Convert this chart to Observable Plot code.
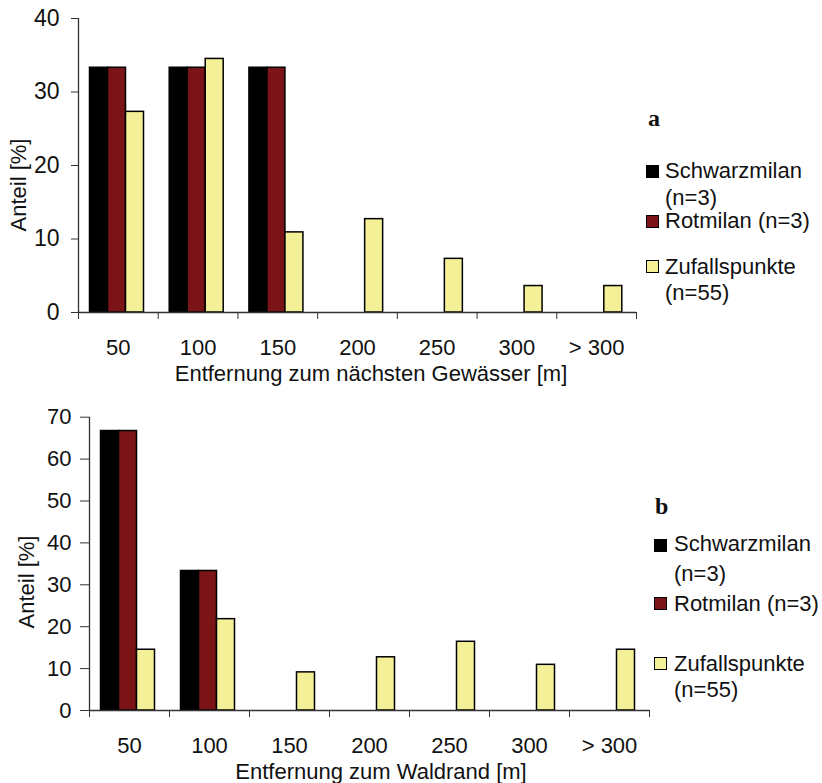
<!DOCTYPE html>
<html><head><meta charset="utf-8">
<script src="https://cdn.jsdelivr.net/npm/d3@7"></script>
<script src="https://cdn.jsdelivr.net/npm/@observablehq/plot@0.6"></script>
<style>
body{margin:0;background:#fff;}
#root{position:relative;width:822px;height:783px;font-family:"Liberation Sans",Arial,sans-serif;color:#111;overflow:hidden;}
.abs{position:absolute;white-space:nowrap;}
.sw{position:absolute;width:11px;height:11px;border:1px solid #000;}
svg{position:absolute;left:0;}
</style></head><body><div id="root"></div>
<script>
// ---- data ----
const categories = ["50", "100", "150", "200", "250", "300", "> 300"];
const seriesNames = ["Schwarzmilan", "Rotmilan", "Zufallspunkte"];
const legendLines = [["Schwarzmilan", "(n=3)"], ["Rotmilan (n=3)"], ["Zufallspunkte", "(n=55)"]];
const colors = ["#000000", "#7a1417", "#f4f098"];
// a: Entfernung zum nächsten Gewässer
const waterSchwarz = [33.3, 33.3, 33.3, 0, 0, 0, 0];
const waterRot     = [33.3, 33.3, 33.3, 0, 0, 0, 0];
const waterZufall  = [27.3, 34.5, 10.9, 12.7, 7.3, 3.6, 3.6];
// b: Entfernung zum Waldrand
const forestSchwarz = [66.7, 33.3, 0, 0, 0, 0, 0];
const forestRot     = [66.7, 33.3, 0, 0, 0, 0, 0];
const forestZufall  = [14.5, 21.8, 9.1, 12.7, 16.4, 10.9, 14.5];
const yTicksA = [0, 10, 20, 30, 40];
const yTicksB = [0, 10, 20, 30, 40, 50, 60, 70];
const yLabel = "Anteil [%]";
const xTitleA = "Entfernung zum nächsten Gewässer [m]";
const xTitleB = "Entfernung zum Waldrand [m]";

const root = document.getElementById("root");
const FONT = "Liberation Sans, Arial, sans-serif";

function rowsOf(values) { return values.map((v, i) => ({i, v})).filter(d => d.v > 0); }

function makeChart(cfg) {
  const plotW = cfg.width - cfg.ml - cfg.mr;
  const band = plotW / categories.length;
  const marks = [];
  cfg.values.forEach((vals, k) => {
    const left = 11.5 + 18 * k;
    marks.push(Plot.rectY(rowsOf(vals), {
      x1: d => d.i, x2: d => d.i + 1, y1: d => 0, y2: d => d.v,
      fill: colors[k], stroke: "#000", strokeWidth: 1.5,
      insetLeft: left, insetRight: band - left - 18
    }));
  });
  marks.push(Plot.ruleY([0], {stroke: "#333", strokeWidth: 1.3}));
  marks.push(Plot.ruleX([0], {stroke: "#333", strokeWidth: 1.3}));
  marks.push(Plot.axisX(d3.range(categories.length + 1), {tickSize: 7, tickFormat: () => "", stroke: "#333", label: null}));
  marks.push(Plot.axisX(categories.map((c, i) => i + 0.5), {tickSize: 0, tickPadding: 27, tickFormat: d => categories[Math.floor(d)], label: null, fontSize: 22}));
  marks.push(Plot.axisY(cfg.yTicks, {tickSize: cfg.tickSize, tickPadding: cfg.tickPad, label: null, stroke: "#333", fontSize: cfg.yFont}));
  const svg = Plot.plot({
    width: cfg.width, height: cfg.height,
    marginLeft: cfg.ml, marginRight: cfg.mr, marginTop: cfg.mt, marginBottom: cfg.mb,
    style: {fontFamily: FONT, fontSize: "22px", color: "#111", background: "transparent", overflow: "visible"},
    x: {type: "linear", domain: [0, categories.length]},
    y: {domain: [0, cfg.yMax]},
    marks
  });
  svg.style.top = cfg.top + "px";
  root.appendChild(svg);
}

function text(str, x, baseline, fs, opts = {}) {
  const d = document.createElement("div");
  d.className = "abs";
  d.textContent = str;
  d.style.fontSize = fs + "px";
  d.style.lineHeight = fs + "px";
  d.style.left = x + "px";
  d.style.top = (baseline - 0.8465 * fs) + "px";
  if (opts.center) d.style.transform = "translateX(-50%)";
  if (opts.font) d.style.fontFamily = opts.font;
  if (opts.bold) d.style.fontWeight = "bold";
  root.appendChild(d);
}
function vtext(str, cx, cy, fs) {
  const d = document.createElement("div");
  d.className = "abs";
  d.textContent = str;
  d.style.fontSize = fs + "px";
  d.style.lineHeight = fs + "px";
  d.style.left = cx + "px";
  d.style.top = cy + "px";
  d.style.transform = "translate(-50%,-50%) rotate(-90deg)";
  root.appendChild(d);
}
function swatch(color, x, y) {
  const d = document.createElement("div");
  d.className = "sw";
  d.style.background = color;
  d.style.left = x + "px";
  d.style.top = y + "px";
  root.appendChild(d);
}
function legend(letter, lx, lb, sx, sTops, tx, baselines) {
  text(letter, lx, lb, 24, {font: "Liberation Serif, Times New Roman, serif", bold: true});
  let b = 0;
  legendLines.forEach((lines, k) => {
    swatch(colors[k], sx, sTops[k]);
    lines.forEach(line => { text(line, tx, baselines[b++], 22); });
  });
}

// Chart a
makeChart({top: 0, width: 660, height: 372, ml: 78, mr: 24, mt: 18, mb: 60,
  values: [waterSchwarz, waterRot, waterZufall], yMax: 40, yTicks: yTicksA, tickSize: 7, tickPad: 12, yFont: 23});
vtext(yLabel, 19, 185, 22);
text(xTitleA, 371, 381.5, 22, {center: true});
legend("a", 648, 126, 646, [165, 215, 260], 665, [179, 205.5, 229, 275, 301]);

// Chart b
makeChart({top: 390, width: 673, height: 380, ml: 89, mr: 24, mt: 26.7, mb: 60,
  values: [forestSchwarz, forestRot, forestZufall], yMax: 70, yTicks: yTicksB, tickSize: 9, tickPad: 9, yFont: 22});
vtext(yLabel, 27, 582, 22);
text(xTitleB, 381, 780, 22, {center: true});
legend("b", 655, 514, 654, [539, 597, 657], 674, [552, 581.7, 612, 672, 698]);
</script>
</body></html>
